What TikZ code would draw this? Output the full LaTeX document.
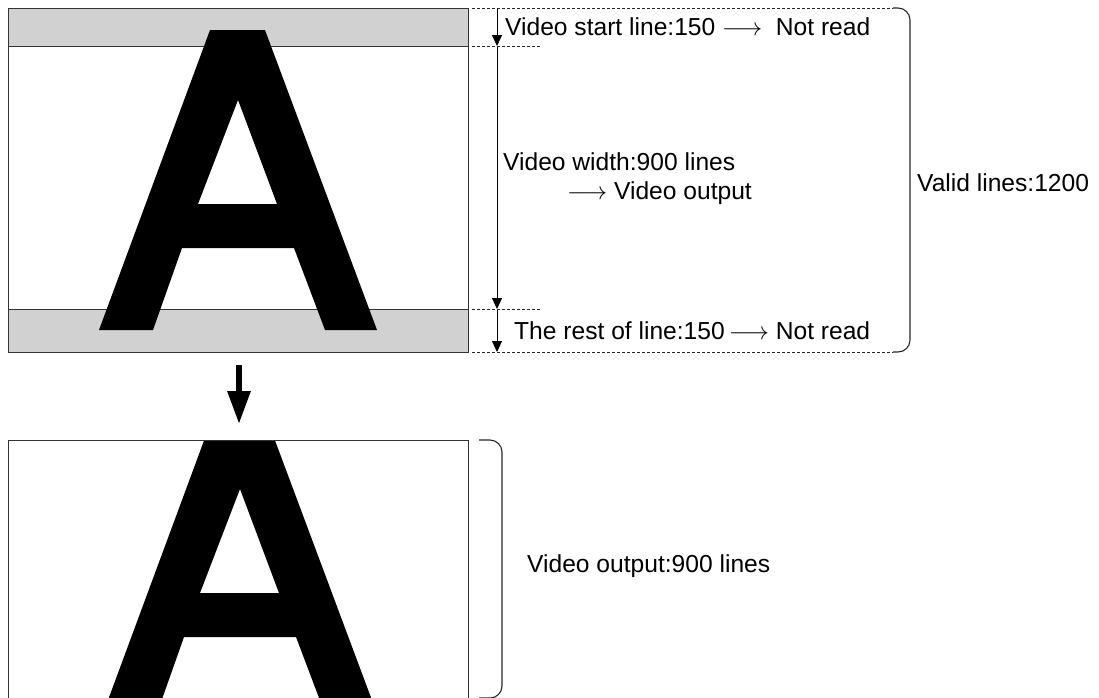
\documentclass[tikz,border=0pt]{standalone}
\usepackage{fontspec}
\setmainfont{Liberation Sans}
\usetikzlibrary{arrows.meta}
\tikzset{
  frame/.style={draw=black!80, line width=1pt},
  band/.style={fill=black!18, draw=black!80, line width=1pt},
  glyph/.style={fill=black, draw=none, even odd rule},
  dimline/.style={draw=black, line width=1pt},
  dimtip/.style={-{Triangle[width=10pt,length=11pt]}},
  dashline/.style={draw=black!85, line width=0.9pt, dash pattern=on 3pt off 2pt},
  brace/.style={draw=black!85, line width=1.1pt, rounded corners=12pt},
  lbl/.style={anchor=west, inner sep=0pt, font=\fontsize{24.6}{28}\selectfont},
  bigarrow/.style={line width=6pt, -{Triangle[width=22pt,length=33pt]}}
}
\newcommand{\Apath}{(210,30) -- (265,30) -- (377,330) -- (325,330) -- (294,248) -- (182,248) -- (153,330) -- (99,330) -- cycle
  (238,100) -- (277,204) -- (198,204) -- cycle}
\begin{document}
\begin{tikzpicture}[x=1pt,y=-1pt]
\useasboundingbox (0,0) rectangle (1099,697);
% ---------- top picture ----------
\fill[white] (8,8) rectangle (468,352);
\path[band] (8,8) rectangle (468,46);
\path[band] (8,309) rectangle (468,352);
\path[glyph] \Apath;
\draw[frame] (8,8) rectangle (468,352);
% dimension line
\coordinate (t0) at (497,8);
\coordinate (t1) at (497,46);
\coordinate (t2) at (497,309);
\coordinate (t3) at (497,352);
\draw[dimline, dimtip] (t0) -- (t1);
\draw[dimline, dimtip] (t1) -- (t2);
\draw[dimline, dimtip] (t2) -- (t3);
% dashed guide lines
\coordinate (d0a) at (472,8);   \coordinate (d0b) at (893,8);
\coordinate (d1a) at (472,46);  \coordinate (d1b) at (540,46);
\coordinate (d2a) at (472,309); \coordinate (d2b) at (540,309);
\coordinate (d3a) at (472,352); \coordinate (d3b) at (893,352);
\draw[dashline] (d0a) -- (d0b);
\draw[dashline] (d1a) -- (d1b);
\draw[dashline] (d2a) -- (d2b);
\draw[dashline] (d3a) -- (d3b);
% bracket 1
\draw[brace] (d0b) -- (910,8) -- (910,352) -- (d3b);
% labels
\node[lbl] (l1) at (505,27) {Video start line:150 $\longrightarrow$\ \ Not read};
\node[lbl] (l2) at (503,162) {Video width:900 lines};
\node[lbl] (l3) at (567,193) {$\longrightarrow$ Video output};
\node[lbl] (l4) at (514,331) {The rest of line:150\,$\longrightarrow$ Not read};
\node[lbl] (l5) at (917,183) {Valid lines:1200};
% ---------- big arrow ----------
\coordinate (dA) at (239,365);
\coordinate (dB) at (239,424);
\draw[bigarrow] (dA) -- (dB);
% ---------- bottom picture ----------
\begin{scope}
  \clip (8,440) rectangle (468,710);
  \path[glyph, shift={(2,389)}] \Apath;
\end{scope}
\draw[frame] (8,440) rectangle (468,710);
% bracket 2
\draw[brace] (479,440) -- (502,440) -- (502,698) -- (479,698);
\node[lbl] (l6) at (527,566) {Video output:900 lines};
\end{tikzpicture}
\end{document}
